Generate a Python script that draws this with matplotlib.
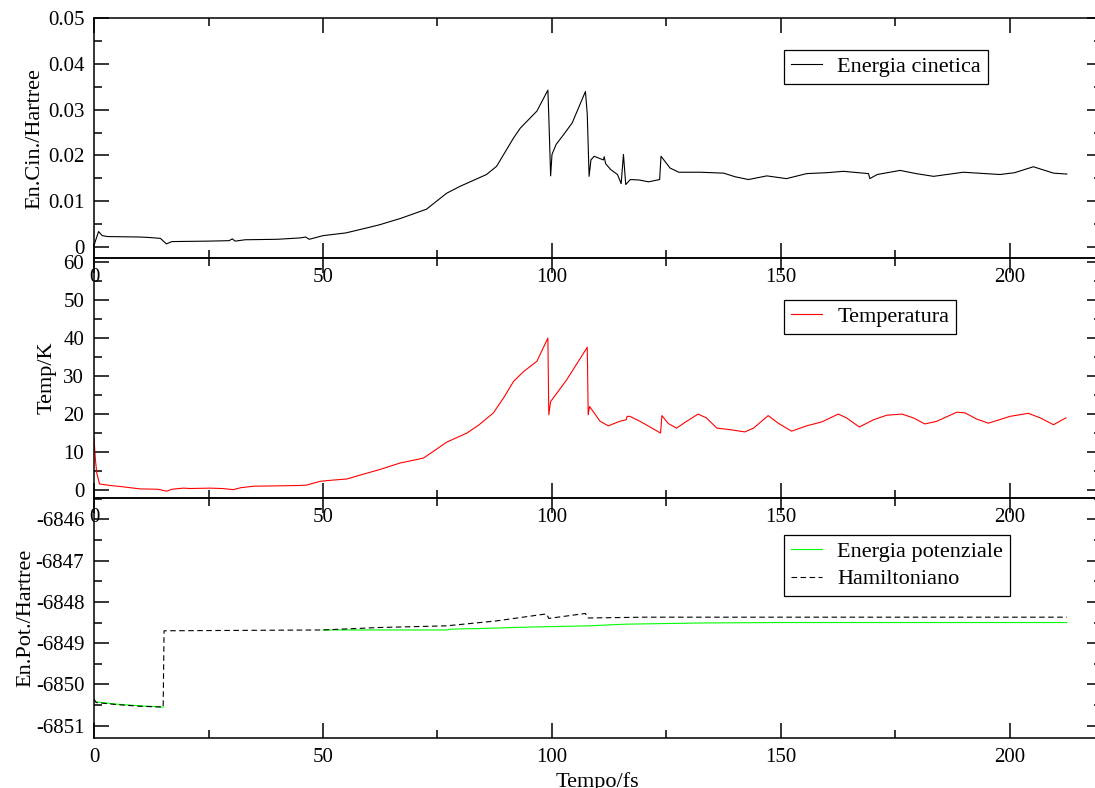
import numpy as np
from matplotlib import pyplot as plt
from matplotlib.ticker import MultipleLocator

plt.rcParams['font.family'] = ['Liberation Serif', 'DejaVu Serif']
plt.rcParams['lines.scale_dashes'] = False

# Energia cinetica (Hartree) vs tempo (fs)
t_kin = [0, 0.3, 1.0, 1.8, 3, 10, 12, 14.5, 15.8, 17, 25, 29.5, 30.2, 30.8, 33, 40,
         45, 46.2, 47, 50, 55, 60, 62.4, 67, 72.6, 77, 79.9, 85.7, 87.9, 91.6, 93.1,
         96.7, 99.1, 99.3, 99.7, 100.0, 100.9, 102.5, 104.4, 107.3, 107.7, 108.1,
         108.5, 109.2, 111.2, 111.4, 111.7, 112.8, 114.3, 115.1, 115.6, 116.1, 117.1,
         119, 121.1, 123.5, 123.8, 125.8, 127.7, 132.4, 137.5, 140, 142.9, 146.9,
         151.2, 155.6, 160, 163.6, 169.1, 169.4, 171, 176.0, 179.5, 183.3, 189.8,
         197.8, 201, 205.1, 209.5, 212.4]
e_kin = [0.0002, 0.0012, 0.0033, 0.0024, 0.0022, 0.0021, 0.0020, 0.0018, 0.0006,
         0.0011, 0.0012, 0.0013, 0.0017, 0.0012, 0.0015, 0.0016, 0.0019, 0.0021,
         0.0016, 0.0024, 0.0030, 0.0042, 0.0048, 0.0062, 0.0082, 0.0117, 0.0132,
         0.0158, 0.0176, 0.0238, 0.0260, 0.0297, 0.0343, 0.0286, 0.0155, 0.0202,
         0.0224, 0.0245, 0.0271, 0.0340, 0.0290, 0.0154, 0.0190, 0.0198, 0.0190,
         0.0197, 0.0182, 0.0169, 0.0158, 0.0138, 0.0202, 0.0136, 0.0147, 0.0146,
         0.0142, 0.0147, 0.0198, 0.0172, 0.0163, 0.0163, 0.0161, 0.0153, 0.0147,
         0.0155, 0.0149, 0.0160, 0.0162, 0.0165, 0.0160, 0.0149, 0.0158, 0.0167,
         0.0160, 0.0154, 0.0163, 0.0158, 0.0162, 0.0175, 0.0161, 0.0159]

# Temperatura (K)
t_temp = [0, 0.3, 0.6, 1.2, 3.5, 6, 10, 14, 15.9, 17, 19.5, 21, 25.3, 28, 30.4, 32,
          34.8, 40, 45, 46.4, 49.4, 52, 55.2, 58, 62.4, 66.8, 71.9, 74, 77, 81.4,
          84, 87.2, 89.5, 91.6, 93.8, 96.7, 99.1, 99.3, 99.7, 103.2, 107.7, 107.9,
          108.2, 110.5, 112.3, 114.8, 116.2, 116.4, 117.0, 119.2, 121.4, 123.7, 124.0,
          125.4, 127.2, 129.4, 131.9, 133.7, 136.0, 138.9, 142.1, 144.0, 147.2,
          149.4, 152.3, 155.6, 158.5, 159.2, 162.5, 164.3, 167.1, 170.2, 173.1,
          176.4, 178.9, 181.4, 184.0, 188.4, 190.2, 192.7, 195.3, 200.0, 204.0,
          206.6, 209.5, 212.2]
temp = [13.6, 8, 4.4, 1.5, 1.1, 0.8, 0.2, 0.1, -0.4, 0.1, 0.4, 0.3, 0.4, 0.3, 0.0,
        0.5, 0.9, 1.0, 1.1, 1.2, 2.2, 2.5, 2.8, 3.8, 5.3, 7.0, 8.3, 10, 12.5, 14.9,
        17.0, 20.2, 24.3, 28.5, 31.1, 33.8, 39.9, 19.7, 23.2, 28.9, 37.5, 19.7, 21.9,
        18.0, 16.8, 18.0, 18.4, 19.3, 19.3, 18.0, 16.5, 14.9, 19.5, 17.4, 16.2, 18.0,
        19.9, 18.9, 16.2, 15.8, 15.2, 16.2, 19.5, 17.5, 15.4, 16.8, 17.7, 18.0, 19.9,
        18.9, 16.5, 18.4, 19.6, 19.9, 18.9, 17.3, 18.0, 20.4, 20.2, 18.6, 17.5, 19.3,
        20.1, 18.9, 17.1, 18.9]

# Energia potenziale (Hartree), gap between 15 and 50 fs
t_pot = [0, 5, 10, 15.2, np.nan, 50, 62.4, 77, 78, 86, 95, 108, 116, 133, 150, 212.4]
e_pot = [-6850.42, -6850.48, -6850.52, -6850.55, np.nan, -6848.68, -6848.68,
         -6848.68, -6848.66, -6848.64, -6848.61, -6848.58, -6848.54, -6848.51,
         -6848.50, -6848.50]

# Hamiltoniano (Hartree)
t_ham = [0, 0.5, 5, 10, 15.1, 15.3, 50, 62.4, 77, 87.9, 98.8, 99.3, 107.3, 107.8,
         120, 212.4]
e_ham = [-6850.36, -6850.44, -6850.49, -6850.53, -6850.55, -6848.70, -6848.68,
         -6848.62, -6848.58, -6848.46, -6848.29, -6848.40, -6848.28, -6848.39,
         -6848.37, -6848.37]

x_ticks = [0, 50, 100, 150, 200]

W, H = 1095, 788
fig = plt.figure(figsize=(W / 100, H / 100), dpi=100)

def make_axes(top_px, bot_px):
    left, right = 94, 1101.6
    ax = fig.add_axes([left / W, 1 - bot_px / H, (right - left) / W, (bot_px - top_px) / H])
    ax.patch.set_visible(False)
    ax.set_xlim(0, 220)
    ax.set_xticks(x_ticks)
    ax.xaxis.set_minor_locator(MultipleLocator(25))
    ax.tick_params(which='both', direction='in', top=True, right=True,
                   width=1.1, labelsize=15, pad=7)
    ax.tick_params(which='major', length=10.8)
    ax.tick_params(which='minor', length=5.8)
    for s in ax.spines.values():
        s.set_linewidth(1.1)
    return ax

def legend(ax, x_px, y_px):
    leg = ax.legend(loc='upper left', bbox_to_anchor=(x_px / W, 1 - y_px / H),
                    bbox_transform=fig.transFigure, fontsize=16, fancybox=False,
                    framealpha=1, edgecolor='black', borderpad=0.3, handlelength=1.4,
                    handletextpad=0.7, labelspacing=0.3, borderaxespad=0)
    leg.get_frame().set_linewidth(0.9)

# Energia cinetica
ax1 = make_axes(18.5, 258)
ax1.plot(t_kin, e_kin, c='black', lw=0.8, label='Energia cinetica')
ax1.set_ylim(-0.0025, 0.05)
ax1.set_yticks([0, 0.01, 0.02, 0.03, 0.04, 0.05])
ax1.set_yticklabels(['0', '0.01', '0.02', '0.03', '0.04', '0.05'])
ax1.yaxis.set_minor_locator(MultipleLocator(0.005))
ax1.set_ylabel('En.Cin./Hartree', fontsize=16)
ax1.yaxis.set_label_coords(-0.0496, 0.5)
legend(ax1, 784, 50)

# Temperatura
ax2 = make_axes(258, 498)
ax2.plot(t_temp, temp, c='red', lw=0.8, label='Temperatura')
ax2.set_ylim(-2.2, 61)
ax2.set_yticks([0, 10, 20, 30, 40, 50, 60])
ax2.yaxis.set_minor_locator(MultipleLocator(5))
ax2.set_ylabel('Temp/K', fontsize=16)
ax2.yaxis.set_label_coords(-0.0367, 0.5)
legend(ax2, 784, 300)

# Energia potenziale e Hamiltoniano
ax3 = make_axes(498, 738)
ax3.plot(t_pot, e_pot, c='#00ff00', lw=0.8, label='Energia potenziale')
ax3.plot(t_ham, e_ham, c='black', lw=0.8, dashes=(4, 2.5), label='Hamiltoniano')
ax3.set_ylim(-6851.30, -6845.48)
ax3.set_yticks([-6851, -6850, -6849, -6848, -6847, -6846])
ax3.set_yticklabels(['-6851', '-6850', '-6849', '-6848', '-6847', '-6846'])
ax3.yaxis.set_minor_locator(MultipleLocator(0.5))
ax3.set_ylabel('En.Pot./Hartree', fontsize=16)
ax3.yaxis.set_label_coords(-0.0586, 0.5)
ax3.set_xlabel('Tempo/fs', fontsize=16, labelpad=4)
legend(ax3, 784, 535)

fig.savefig('out.png', dpi=100)
